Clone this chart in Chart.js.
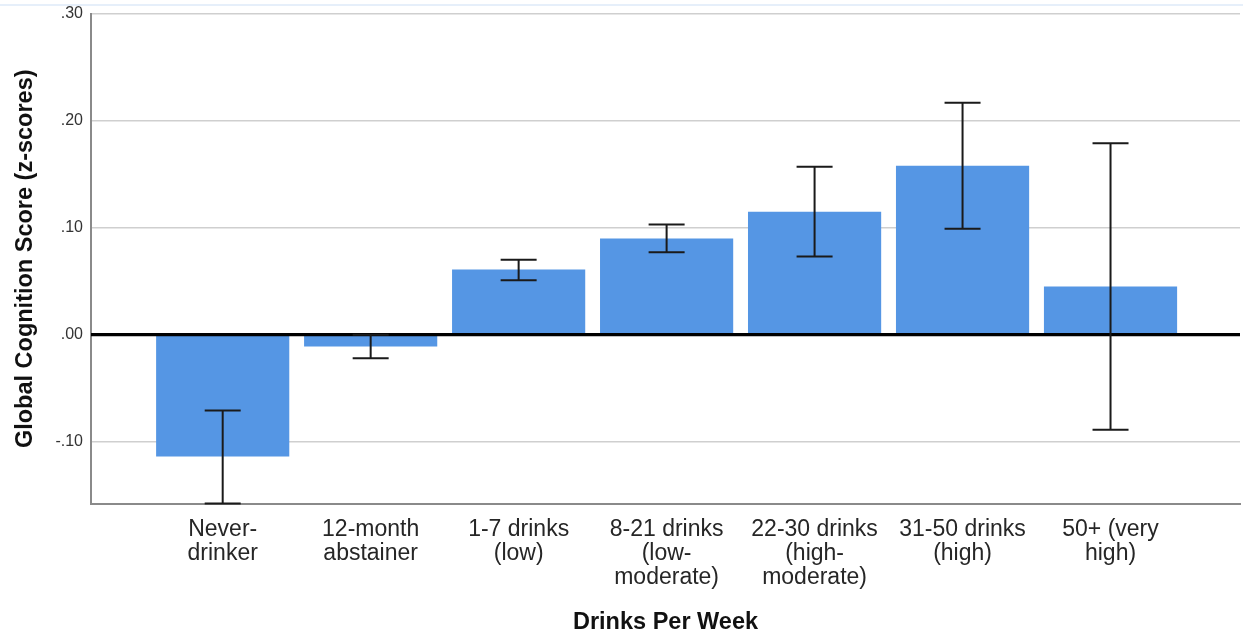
<!DOCTYPE html>
<html><head><meta charset="utf-8">
<script src="https://cdn.jsdelivr.net/npm/chart.js@4.4.0/dist/chart.umd.min.js"></script>
<style>
html,body{margin:0;padding:0;background:#fff;overflow:hidden}
#wrap{position:relative;width:1243px;height:637px}
#topline{position:absolute;left:0;top:4px;width:1243px;height:2px;background:#e6effa}
canvas{display:block}
</style></head><body>
<div id="wrap"><canvas id="c" width="1243" height="637"></canvas><div id="topline"></div></div>
<script>
const categories = [
  ["Never-", "drinker"],
  ["12-month", "abstainer"],
  ["1-7 drinks", "(low)"],
  ["8-21 drinks", "(low-", "moderate)"],
  ["22-30 drinks", "(high-", "moderate)"],
  ["31-50 drinks", "(high)"],
  ["50+ (very", "high)"]
];
const meanScores = [-0.114, -0.011, 0.061, 0.090, 0.115, 0.158, 0.045];
const ciLower    = [-0.158, -0.022, 0.051, 0.077, 0.073, 0.099, -0.089];
const ciUpper    = [-0.071,  0.000, 0.070, 0.103, 0.157, 0.217, 0.179];
const yTickValues = [-0.1, 0, 0.1, 0.2, 0.3];
const yTickLabels = ["-.10", ".00", ".10", ".20", ".30"];

const FONT = "'Liberation Sans', Arial, sans-serif";

const overlay = {
  id: 'overlay',
  afterDatasetsDraw(chart) {
    const ctx = chart.ctx, xs = chart.scales.x, ys = chart.scales.y, area = chart.chartArea;
    ctx.save();
    const y0 = ys.getPixelForValue(0);
    ctx.strokeStyle = '#000';
    ctx.lineWidth = 3.2;
    ctx.beginPath(); ctx.moveTo(area.left, y0); ctx.lineTo(area.right, y0); ctx.stroke();
    ctx.strokeStyle = '#1a1a1a';
    ctx.lineWidth = 2;
    const cap = 18;
    meanScores.forEach((m, i) => {
      const x = xs.getPixelForValue(i);
      const yl = ys.getPixelForValue(ciLower[i]);
      const yu = ys.getPixelForValue(ciUpper[i]);
      ctx.beginPath();
      ctx.moveTo(x, yu); ctx.lineTo(x, yl);
      ctx.moveTo(x - cap, yu); ctx.lineTo(x + cap, yu);
      ctx.moveTo(x - cap, yl); ctx.lineTo(x + cap, yl);
      ctx.stroke();
    });
    ctx.restore();
  }
};

new Chart(document.getElementById('c'), {
  type: 'bar',
  data: {
    datasets: [{
      data: meanScores.map((v, i) => ({x: i, y: v})),
      backgroundColor: '#5596e4',
      borderWidth: 0,
      barPercentage: 0.9,
      categoryPercentage: 1.0
    }]
  },
  options: {
    responsive: false,
    animation: false,
    devicePixelRatio: 1,
    layout: {padding: {top: 14, right: 3, left: 0, bottom: 0}},
    plugins: {legend: {display: false}, tooltip: {enabled: false}},
    scales: {
      x: {
        type: 'linear',
        min: -0.89,
        max: 6.875,
        offset: false,
        grid: {display: false, offset: false, drawTicks: false},
        border: {display: true, color: '#8a8a8a', width: 2},
        afterBuildTicks: (s) => { s.ticks = categories.map((_, i) => ({value: i})); },
        afterFit: (s) => { s.height = 133.5; },
        ticks: {
          autoSkip: false, maxRotation: 0, minRotation: 0,
          padding: 14,
          color: '#262626',
          font: {family: FONT, size: 23, lineHeight: 1.04},
          callback: (v) => categories[v]
        },
        title: {
          display: true, text: 'Drinks Per Week', color: '#111',
          font: {family: FONT, size: 23.5, weight: 'bold'},
          padding: {top: 4, bottom: 0}
        }
      },
      y: {
        min: -0.158,
        max: 0.30,
        grid: {color: '#cfcfcf', lineWidth: 1.6, drawTicks: false},
        border: {display: true, color: '#8a8a8a', width: 2},
        afterBuildTicks: (s) => { s.ticks = yTickValues.map(v => ({value: v})); },
        afterFit: (s) => { s.width = 91; },
        ticks: {
          padding: 8,
          color: '#333',
          font: {family: FONT, size: 16, lineHeight: 0.6},
          callback: (v) => { const k = yTickValues.findIndex(t => Math.abs(t - v) < 1e-9); return k >= 0 ? yTickLabels[k] : ''; }
        },
        title: {
          display: true, text: 'Global Cognition Score (z-scores)', color: '#111',
          font: {family: FONT, size: 23.5, weight: 'bold'},
          padding: {top: 11, bottom: 0}
        }
      }
    }
  },
  plugins: [overlay]
});
</script>
</body></html>
